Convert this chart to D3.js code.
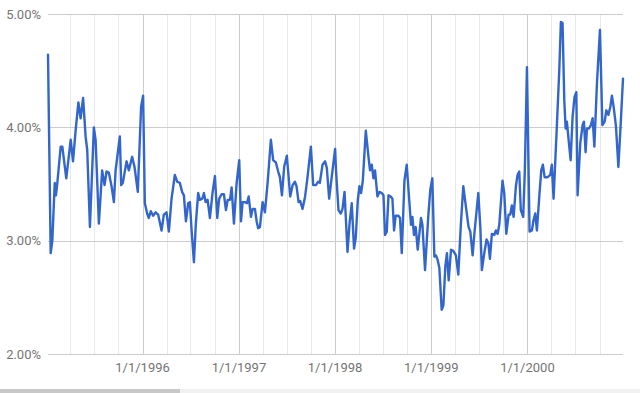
<!DOCTYPE html>
<html>
<head>
<meta charset="utf-8">
<script src="https://cdn.jsdelivr.net/npm/d3@7"></script>
<style>
  html, body { margin: 0; padding: 0; background: #fff; }
  svg { display: block; font-family: Roboto, "Noto Sans", Arial, sans-serif; }
</style>
</head>
<body>
<svg id="chart" width="640" height="393"></svg>
<script>
// decimal year, rate (%)
const rates_1995 = [
  [1995.017, 4.64], [1995.045, 2.89], [1995.062, 3.00], [1995.087, 3.51], [1995.100, 3.40],
  [1995.114, 3.51], [1995.149, 3.83], [1995.166, 3.83], [1995.207, 3.55], [1995.253, 3.89],
  [1995.277, 3.70], [1995.305, 3.98], [1995.333, 4.22], [1995.356, 4.08], [1995.382, 4.26],
  [1995.408, 3.92], [1995.425, 3.80], [1995.453, 3.12], [1995.494, 4.00], [1995.512, 3.89],
  [1995.546, 3.15], [1995.580, 3.62], [1995.605, 3.49], [1995.626, 3.61], [1995.650, 3.60],
  [1995.678, 3.48], [1995.702, 3.34], [1995.720, 3.62], [1995.764, 3.92], [1995.778, 3.49],
  [1995.795, 3.51], [1995.834, 3.70], [1995.858, 3.62], [1995.892, 3.74], [1995.917, 3.65],
  [1995.951, 3.43], [1995.985, 4.18]
];
const rates_1996 = [
  [1996.006, 4.28], [1996.024, 3.33], [1996.048, 3.24], [1996.065, 3.20], [1996.086, 3.26],
  [1996.110, 3.22], [1996.135, 3.25], [1996.162, 3.23], [1996.197, 3.09], [1996.221, 3.23],
  [1996.249, 3.25], [1996.273, 3.08], [1996.301, 3.37], [1996.335, 3.58], [1996.359, 3.52],
  [1996.387, 3.51], [1996.411, 3.43], [1996.429, 3.40], [1996.450, 3.17], [1996.474, 3.33],
  [1996.491, 3.34], [1996.509, 3.09], [1996.533, 2.81], [1996.553, 3.15], [1996.577, 3.42],
  [1996.595, 3.36], [1996.619, 3.37], [1996.637, 3.42], [1996.654, 3.34], [1996.675, 3.36],
  [1996.699, 3.20], [1996.727, 3.43], [1996.751, 3.57], [1996.775, 3.20], [1996.795, 3.37],
  [1996.820, 3.41], [1996.844, 3.41], [1996.865, 3.27], [1996.883, 3.36], [1996.907, 3.36],
  [1996.924, 3.47], [1996.948, 3.15], [1996.976, 3.51]
];
const rates_1997 = [
  [1997.003, 3.71], [1997.021, 3.17], [1997.038, 3.34], [1997.062, 3.34], [1997.083, 3.33],
  [1997.101, 3.39], [1997.125, 3.21], [1997.142, 3.28], [1997.166, 3.28], [1997.184, 3.17],
  [1997.200, 3.11], [1997.218, 3.12], [1997.246, 3.34], [1997.270, 3.25], [1997.298, 3.51],
  [1997.332, 3.89], [1997.356, 3.71], [1997.384, 3.69], [1997.408, 3.61], [1997.426, 3.56],
  [1997.447, 3.40], [1997.470, 3.65], [1997.498, 3.75], [1997.533, 3.39], [1997.558, 3.49],
  [1997.582, 3.52], [1997.599, 3.48], [1997.620, 3.34], [1997.637, 3.35], [1997.661, 3.28],
  [1997.688, 3.39], [1997.713, 3.56], [1997.748, 3.83], [1997.772, 3.49], [1997.800, 3.49],
  [1997.823, 3.52], [1997.841, 3.51], [1997.869, 3.67], [1997.896, 3.70], [1997.914, 3.64],
  [1997.938, 3.37], [1997.973, 3.62]
];
const rates_1998 = [
  [1998.000, 3.81], [1998.010, 3.61], [1998.035, 3.27], [1998.059, 3.24], [1998.077, 3.28],
  [1998.098, 3.43], [1998.129, 2.90], [1998.150, 3.15], [1998.173, 3.33], [1998.197, 2.93],
  [1998.215, 3.03], [1998.236, 3.36], [1998.253, 3.48], [1998.270, 3.42], [1998.288, 3.53],
  [1998.319, 3.97], [1998.347, 3.74], [1998.363, 3.62], [1998.381, 3.67], [1998.399, 3.55],
  [1998.415, 3.62], [1998.440, 3.39], [1998.461, 3.43], [1998.485, 3.42], [1998.503, 3.40],
  [1998.519, 3.05], [1998.537, 3.08], [1998.555, 3.40], [1998.578, 3.39], [1998.596, 3.37],
  [1998.613, 3.09], [1998.630, 3.22], [1998.658, 3.22], [1998.675, 3.20], [1998.693, 2.89],
  [1998.721, 3.53], [1998.745, 3.67], [1998.768, 3.39], [1998.789, 3.14], [1998.804, 3.21],
  [1998.820, 3.05], [1998.838, 3.12], [1998.859, 2.92], [1998.893, 3.20], [1998.908, 3.14],
  [1998.935, 2.74], [1998.970, 3.23], [1998.990, 3.45]
];
const rates_1999 = [
  [1999.011, 3.55], [1999.032, 2.86], [1999.049, 2.87], [1999.066, 2.83], [1999.084, 2.76],
  [1999.108, 2.39], [1999.126, 2.43], [1999.146, 2.77], [1999.163, 2.89], [1999.181, 2.65],
  [1999.205, 2.92], [1999.229, 2.91], [1999.256, 2.87], [1999.281, 2.70], [1999.308, 3.15],
  [1999.333, 3.48], [1999.360, 3.30], [1999.388, 3.12], [1999.406, 3.08], [1999.430, 2.87],
  [1999.448, 3.06], [1999.464, 3.20], [1999.489, 3.42], [1999.510, 3.12], [1999.526, 2.74],
  [1999.551, 2.89], [1999.575, 3.01], [1999.593, 2.98], [1999.610, 2.84], [1999.630, 3.06],
  [1999.655, 3.05], [1999.672, 3.09], [1999.690, 3.06], [1999.707, 3.14], [1999.741, 3.53],
  [1999.759, 3.42], [1999.780, 3.06], [1999.804, 3.23], [1999.821, 3.23], [1999.838, 3.31],
  [1999.856, 3.21], [1999.880, 3.48], [1999.897, 3.58], [1999.915, 3.61], [1999.931, 3.27],
  [1999.956, 3.21], [1999.973, 3.62], [1999.995, 4.53]
];
const rates_2000 = [
  [2000.022, 3.08], [2000.046, 3.09], [2000.063, 3.18], [2000.081, 3.24], [2000.098, 3.09],
  [2000.123, 3.39], [2000.143, 3.62], [2000.160, 3.67], [2000.178, 3.56], [2000.209, 3.56],
  [2000.237, 3.58], [2000.253, 3.67], [2000.271, 3.37], [2000.305, 4.01], [2000.330, 4.50],
  [2000.347, 4.93], [2000.364, 4.92], [2000.382, 4.24], [2000.396, 3.99], [2000.409, 4.05],
  [2000.427, 3.89], [2000.448, 3.71], [2000.468, 4.09], [2000.489, 4.27], [2000.507, 4.31],
  [2000.520, 3.40], [2000.548, 3.86], [2000.572, 4.02], [2000.586, 4.05], [2000.603, 3.78],
  [2000.617, 3.99], [2000.638, 3.99], [2000.658, 4.02], [2000.676, 4.08], [2000.694, 3.83],
  [2000.721, 4.39], [2000.752, 4.86], [2000.777, 4.02], [2000.801, 4.05], [2000.818, 4.15],
  [2000.839, 4.11], [2000.860, 4.18], [2000.876, 4.28], [2000.894, 4.18], [2000.918, 4.01],
  [2000.943, 3.65], [2000.964, 3.98], [2000.991, 4.43]
];

const y_ticks = [2, 3, 4, 5];
const x_tick_years = [1996, 1997, 1998, 1999, 2000];

const width = 640;
const height = 393;
const margin = { top: 14, right: 17, bottom: 39, left: 48 };

function to_date(decimal_year) {
  const y = Math.floor(decimal_year);
  const start = new Date(y, 0, 1).getTime();
  const end = new Date(y + 1, 0, 1).getTime();
  return new Date(start + (decimal_year - y) * (end - start));
}

const data = [].concat(rates_1995, rates_1996, rates_1997, rates_1998, rates_1999, rates_2000)
  .map((d) => ({ date: to_date(d[0]), value: d[1] }));

const svg = d3.select("#chart");

const x = d3
  .scaleTime()
  .domain(d3.extent(data, (d) => d.date))
  .range([margin.left, width - margin.right]);

const y = d3
  .scaleLinear()
  .domain([2, 5])
  .range([height - margin.bottom, margin.top]);

// quarterly minor gridlines
const quarters = d3.timeMonth.every(3).range(x.domain()[0], x.domain()[1]);
svg
  .append("g")
  .selectAll("line")
  .data(quarters.filter((d) => d.getMonth() !== 0))
  .join("line")
  .attr("x1", (d) => Math.round(x(d)) + 0.5)
  .attr("x2", (d) => Math.round(x(d)) + 0.5)
  .attr("y1", margin.top)
  .attr("y2", height - margin.bottom)
  .attr("stroke", "#e8e8e8")
  .attr("stroke-width", 1);

const year_dates = x_tick_years.map((yr) => new Date(yr, 0, 1));
svg
  .append("g")
  .selectAll("line")
  .data(year_dates)
  .join("line")
  .attr("x1", (d) => Math.round(x(d)) + 0.5)
  .attr("x2", (d) => Math.round(x(d)) + 0.5)
  .attr("y1", margin.top)
  .attr("y2", height - margin.bottom)
  .attr("stroke", "#cccccc")
  .attr("stroke-width", 1);

// horizontal gridlines
svg
  .append("g")
  .selectAll("line")
  .data(y_ticks)
  .join("line")
  .attr("x1", margin.left)
  .attr("x2", width - margin.right)
  .attr("y1", (d) => Math.round(y(d)) + 0.5)
  .attr("y2", (d) => Math.round(y(d)) + 0.5)
  .attr("stroke", "#cccccc")
  .attr("stroke-width", 1);

// y labels
svg
  .append("g")
  .selectAll("text")
  .data(y_ticks)
  .join("text")
  .attr("x", margin.left - 7)
  .attr("y", (d) => y(d))
  .attr("dy", "0.35em")
  .attr("text-anchor", "end")
  .attr("fill", "#757575")
  .attr("font-size", 13)
  .text((d) => d3.format(".2f")(d) + "%");

// x labels
const fmt = d3.timeFormat("%-m/%-d/%Y");
svg
  .append("g")
  .selectAll("text")
  .data(year_dates)
  .join("text")
  .attr("x", (d) => x(d))
  .attr("y", height - margin.bottom + 18)
  .attr("text-anchor", "middle")
  .attr("fill", "#757575")
  .attr("font-size", 13)
  .text((d) => fmt(d));

const line = d3
  .line()
  .x((d) => x(d.date))
  .y((d) => y(d.value));

svg
  .append("path")
  .datum(data)
  .attr("fill", "none")
  .attr("stroke", "#3366cc")
  .attr("stroke-width", 2.4)
  .attr("stroke-linejoin", "round")
  .attr("stroke-linecap", "round")
  .attr("d", line);

// scrollbar strip at the bottom
svg.append("rect").attr("x", 0).attr("y", 389).attr("width", width).attr("height", 4).attr("fill", "#f1f1f1");
svg.append("rect").attr("x", 0).attr("y", 389).attr("width", 180).attr("height", 4).attr("fill", "#c8c8c8");
</script>
</body>
</html>
